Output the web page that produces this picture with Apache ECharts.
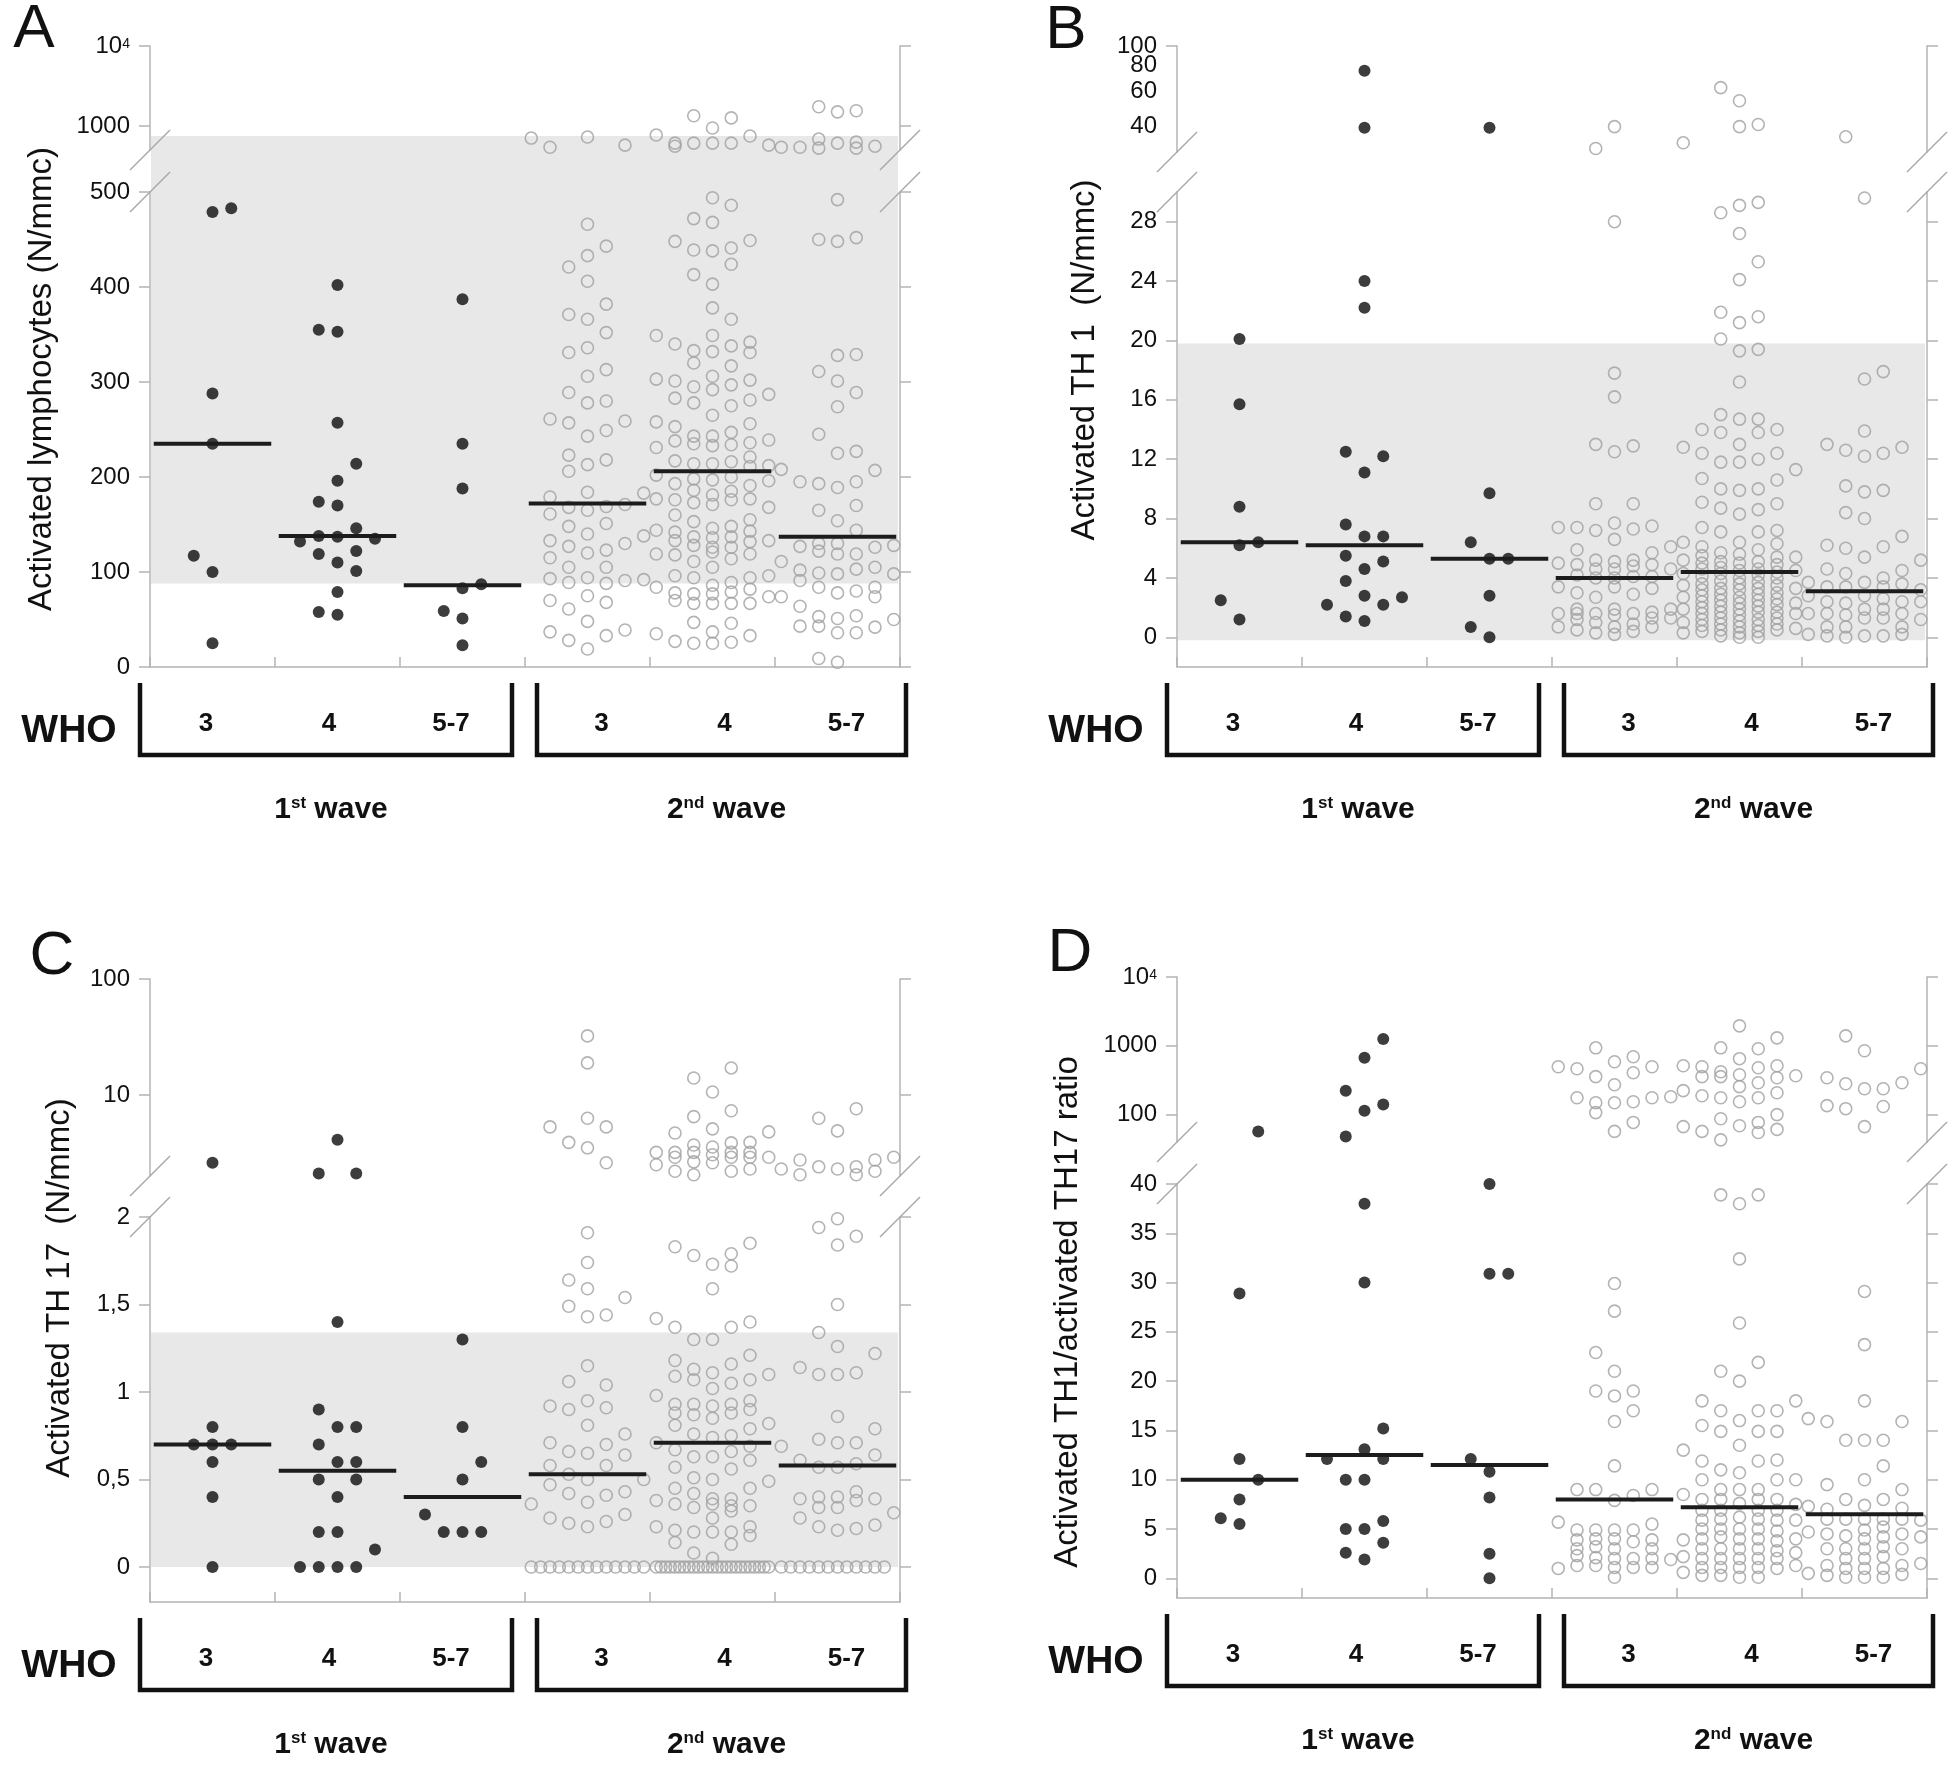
<!DOCTYPE html>
<html>
<head>
<meta charset="utf-8">
<script src="https://cdn.jsdelivr.net/npm/echarts@6/dist/echarts.min.js"></script>
<style>
  html, body { margin: 0; padding: 0; background: #fff; }
  #chart { width: 1960px; height: 1768px; }
</style>
</head>
<body>
<div id="chart"></div>
<script>
// WHO classes and waves
const whoClasses = ['3', '4', '5-7'];
const waveLabels = [['1', 'st'], ['2', 'nd']];

// each group: [column offset, value]; groups 0-2 = 1st wave, 3-5 = 2nd wave
const lymphocytes = [
  [[0,479],[1,483],[0,288],[0,235],[-1,117],[0,100],[0,25]],
  [[0,402],[-1,355],[0,353],[0,257],[1,214],[0,196],[-1,174],[0,170],[1,146],[-2,132],[-1,138],[0,137],[2,135],[-1,119],[1,122],[0,110],[1,101],[0,79],[-1,58],[0,55]],
  [[0,387],[0,235],[0,188],[0,83],[1,87],[-1,59],[0,51],[0,23]],
  [[-3,705],[-2,542],[0,726],[2,575],
   [0,466],[1,443],[-1,421],[0,433],[0,406],[1,382],[-1,371],[0,366],[1,352],[-1,331],[0,336],[0,306],[1,313],[-1,289],[0,278],[1,280],
   [-2,261],[-1,257],[2,259],[0,243],[1,249],[-1,223],[-1,206],[0,213],[1,218],[-2,179],[0,184],[3,183],[-1,168],[0,165],[1,169],[2,171],
   [-2,161],[-1,148],[1,151],[0,140],[-2,133],[-1,127],[0,120],[1,123],[2,130],[3,138],[-2,115],[-1,105],[1,105],[-2,93],[-1,89],[0,94],
   [1,88],[2,91],[3,92],[-2,70],[-1,61],[0,75],[1,68],[0,48],[-2,37],[-1,28],[0,19],[1,33],[2,39]],
  [[-3,769],[-2,609],[-2,558],[-1,1340],[-1,609],[0,943],[0,609],[1,1260],[1,609],[2,747],[3,575],
   [0,494],[1,486],[-1,472],[0,468],[-2,448],[-1,439],[0,438],[1,441],[2,449],[1,424],[-1,413],[0,403],[0,378],[1,366],
   [-3,349],[-2,340],[0,349],[-1,333],[0,332],[1,338],[2,342],[2,331],[-1,320],[1,317],[0,306],[-3,303],[-2,301],[-1,295],[0,292],[1,297],[2,302],
   [-2,283],[-1,278],[2,281],[3,287],[1,275],[0,265],[-3,258],[-2,253],[2,256],[-2,238],[-1,243],[-1,235],[0,243],[0,233],[1,247],[1,234],[2,236],[3,239],[-3,231],
   [2,221],[-2,217],[-1,214],[0,214],[1,216],[2,211],[3,212],[-3,202],[-2,193],[-1,198],[0,197],[1,200],[2,191],[3,196],
   [-2,176],[-1,186],[-1,173],[0,181],[0,171],[1,185],[1,176],[2,177],[-3,177],[3,168],[-2,160],[-1,153],[0,146],[1,148],[2,155],
   [-2,142],[-2,133],[-1,137],[-1,128],[0,136],[0,126],[1,137],[1,126],[2,143],[2,132],[3,133],[-3,144],[-3,119],[-2,118],[-1,111],[0,121],[1,114],[2,119],[0,105],
   [-2,96],[-1,94],[0,86],[1,89],[2,94],[3,96],[-3,84],[-2,78],[-2,70],[-1,77],[-1,67],[0,77],[0,67],[1,79],[1,67],[2,82],[2,67],[3,74],
   [-1,47],[0,37],[1,46],[-3,35],[-2,27],[-1,25],[0,25],[1,26],[2,33]],
  [[-3,542],[-2,542],[-1,1740],[-1,685],[-1,527],[0,1500],[0,609],[1,1550],[1,627],[1,527],[2,558],
   [0,492],[-1,450],[0,448],[1,452],[0,328],[1,329],[-1,311],[0,301],[1,289],[0,274],[-1,245],[0,225],[1,227],
   [-3,208],[-2,195],[-1,193],[0,189],[1,195],[2,207],[-1,165],[1,170],[0,154],[1,144],
   [-2,127],[-1,130],[-1,122],[0,130],[0,119],[1,119],[2,126],[3,128],[-3,111],[-2,102],[-1,99],[0,98],[1,103],[2,105],[3,98],
   [-2,91],[-1,84],[0,78],[1,80],[2,84],[2,74],[-3,74],[-2,64],[-1,53],[-1,43],[0,51],[0,36],[1,54],[1,36],[-2,43],[2,42],[3,50],[-1,9],[0,5]]
];
const lymphMedians = [235, 138, 86, 172, 206, 137];
const lymphBand = [88, 750];
const lymphUpperTicks = [1000, 10000];
const lymphLowerTicks = [0, 100, 200, 300, 400, 500];

const th1 = [
  [[0,20.1],[0,15.7],[0,8.8],[0,6.2],[1,6.4],[-1,2.5],[0,1.2]],
  [[0,75.5],[0,39.5],[0,24.0],[0,22.2],[-1,12.5],[1,12.2],[0,11.1],[-1,7.6],[0,6.8],[1,6.8],[-1,5.5],[1,5.1],[0,4.6],[-1,3.8],[0,2.8],[2,2.7],[-2,2.2],[1,2.2],[-1,1.4],[0,1.1]],
  [[0,39.5],[0,9.7],[-1,6.4],[0,5.3],[1,5.3],[0,2.8],[-1,0.7],[0,0]],
  [[-1,31.2],[0,40],[0,28.0],[0,17.8],[0,16.2],[-1,13.0],[0,12.5],[1,12.9],[-1,9.0],[1,9.0],[-3,7.4],[-2,7.4],[-1,7.2],[0,7.7],[0,6.6],[1,7.3],[2,7.5],[3,6.1],
   [-2,5.9],[-3,5.0],[-2,4.9],[-1,5.2],[-1,4.6],[0,5.1],[0,4.6],[1,5.2],[1,4.8],[2,5.7],[2,4.9],[3,4.6],[-2,4.2],[-1,4.0],[0,4.0],[1,4.1],[2,4.1],
   [-3,3.4],[-2,3.0],[-1,2.7],[0,3.4],[1,2.9],[2,3.3],[3,1.9],[3,1.3],[-3,1.6],[-3,0.7],[-2,1.9],[-2,1.6],[-2,1.2],[-2,0.5],[-1,1.6],[-1,1.0],[-1,0.3],
   [0,1.9],[0,1.5],[0,0.7],[0,0.2],[1,1.6],[1,0.9],[1,0.4],[2,1.7],[2,1.3],[2,0.7]],
  [[-3,33.3],[-1,62.3],[0,53.7],[0,40],[1,41],
   [-1,28.6],[0,29.1],[1,29.3],[0,27.2],[1,25.3],[0,24.1],[-1,21.9],[0,21.2],[1,21.6],[-1,20.1],[0,19.3],[1,19.4],[0,17.2],[-1,15.0],[0,14.7],[1,14.7],
   [-2,14.0],[-1,13.8],[1,13.8],[2,14.0],[0,13.0],[-3,12.8],[-2,12.4],[2,12.4],[-1,11.8],[0,11.8],[1,12.0],[3,11.3],[-2,10.7],[2,10.6],[-1,10.0],[0,9.9],[1,10.0],
   [-2,9.1],[-1,8.7],[0,8.3],[1,8.6],[2,9.0],[-2,7.4],[-1,7.1],[1,7.1],[2,7.2],[-3,6.4],[0,6.4],[2,6.3],[-2,6.1],[1,5.9],[3,5.4],[-3,5.2],[-2,5.5],[-1,5.7],[0,5.6],[2,5.4],
   [-2,5.0],[-2,4.6],[-2,4.1],[-2,3.6],[-2,3.2],[-2,2.8],[-2,2.4],[-2,2.0],[-2,1.6],[-2,1.2],[-2,0.8],[-2,0.4],
   [-1,5.1],[-1,4.7],[-1,4.3],[-1,3.8],[-1,3.3],[-1,2.9],[-1,2.5],[-1,2.1],[-1,1.7],[-1,1.3],[-1,0.9],[-1,0.5],[-1,0.1],
   [0,5.0],[0,4.5],[0,4.0],[0,3.6],[0,3.2],[0,2.7],[0,2.3],[0,1.9],[0,1.5],[0,1.1],[0,0.7],[0,0.3],[0,0.0],
   [1,5.1],[1,4.6],[1,4.2],[1,3.7],[1,3.3],[1,2.9],[1,2.5],[1,2.1],[1,1.7],[1,1.2],[1,0.8],[1,0.4],[1,0.0],
   [2,4.9],[2,4.4],[2,4.0],[2,3.5],[2,3.0],[2,2.6],[2,2.2],[2,1.7],[2,1.3],[2,0.9],[2,0.5],
   [-3,4.3],[-3,3.5],[-3,2.7],[-3,1.9],[-3,1.0],[-3,0.3],[3,4.5],[3,3.3],[3,2.3],[3,1.6],[3,0.6]],
  [[-1,35.7],[0,29.6],[0,17.4],[1,17.9],[0,13.9],[-2,13.0],[-1,12.6],[0,12.2],[1,12.4],[2,12.8],[-1,10.2],[0,9.8],[1,9.9],[-1,8.4],[0,8.0],[2,6.8],
   [-2,6.2],[-1,6.0],[1,6.1],[0,5.4],[3,5.2],[-2,4.6],[-1,4.3],[0,3.7],[1,4.0],[2,4.5],[-3,3.7],[-3,2.8],[-2,3.4],[-2,2.4],[-1,3.4],[-1,2.3],[0,2.8],[0,1.9],
   [1,3.4],[1,2.6],[1,1.9],[2,3.6],[2,2.4],[3,3.2],[3,2.4],[3,1.2],[-3,1.6],[-3,0.2],[-2,1.6],[-2,0.7],[-2,0.1],[-1,1.5],[-1,0.7],[-1,0.0],
   [0,1.3],[0,0.1],[1,1.3],[1,0.1],[2,1.6],[2,0.7],[2,0.2]]
];
const th1Medians = [6.4, 6.2, 5.3, 4.0, 4.4, 3.1];
const th1Band = [-0.2, 19.8];
const th1UpperLabels = [40, 60, 100];
const th1UpperExtraLabels = [80];
const th1UpperTicks = [100];
const th1LowerTicks = [0, 4, 8, 12, 16, 20, 24, 28];

const th17 = [
  [[0,2.6],[0,0.8],[-1,0.7],[0,0.7],[1,0.7],[0,0.6],[0,0.4],[0,0]],
  [[0,4.1],[-1,2.1],[1,2.1],[0,1.4],[-1,0.9],[0,0.8],[1,0.8],[-1,0.7],[0,0.6],[1,0.6],[-1,0.5],[1,0.5],[0,0.4],[-1,0.2],[0,0.2],[2,0.1],[-2,0],[-1,0],[0,0],[1,0]],
  [[0,1.3],[0,0.8],[1,0.6],[0,0.5],[-2,0.3],[-1,0.2],[0,0.2],[1,0.2]],
  [[0,32.3],[0,18.9],[-2,5.3],[-1,3.9],[0,6.3],[0,3.5],[1,5.3],[1,2.6],
   [0,1.91],[0,1.74],[-1,1.64],[0,1.59],[-1,1.49],[0,1.43],[1,1.44],[2,1.54],[0,1.15],[-1,1.06],[1,1.04],[-2,0.92],[-1,0.90],[0,0.95],[1,0.91],[0,0.81],
   [-2,0.71],[-1,0.66],[0,0.65],[1,0.70],[2,0.76],[2,0.64],[-2,0.58],[-1,0.53],[0,0.50],[1,0.58],[3,0.50],[-2,0.47],[-1,0.42],[0,0.37],[1,0.41],[2,0.43],
   [-3,0.36],[-2,0.28],[-1,0.25],[0,0.23],[1,0.26],[2,0.30],
   [-3,0],[-2.5,0],[-2,0],[-1.5,0],[-1,0],[-0.5,0],[0,0],[0.5,0],[1,0],[1.5,0],[2,0],[2.5,0],[3,0]],
  [[-3,3.2],[-3,2.5],[-2,4.7],[-2,3.2],[-2,2.9],[-2,2.2],[-1,14.0],[-1,6.5],[-1,3.7],[-1,3.2],[-1,2.65],[-1,2.05],[0,10.6],[0,5.1],[0,3.56],[0,3.05],[0,2.6],
   [1,17.1],[1,7.3],[1,3.86],[1,3.2],[1,2.9],[1,2.2],[2,3.9],[2,3.2],[2,2.9],[2,2.3],[3,4.8],[3,2.9],
   [-2,1.83],[-1,1.78],[0,1.73],[1,1.79],[1,1.72],[2,1.85],[0,1.59],[-3,1.42],[-2,1.37],[1,1.37],[2,1.40],[-1,1.30],[0,1.30],[2,1.21],[-2,1.18],[1,1.16],
   [-2,1.09],[-1,1.13],[-1,1.07],[0,1.11],[0,1.02],[1,1.05],[2,1.07],[3,1.10],[-3,0.98],[-2,0.93],[-2,0.88],[-1,0.93],[-1,0.87],[0,0.92],[0,0.85],[1,0.93],[1,0.88],
   [2,0.95],[2,0.90],[2,0.79],[3,0.82],[-2,0.81],[-1,0.76],[0,0.74],[1,0.75],[-3,0.71],[-2,0.67],[-1,0.63],[0,0.63],[1,0.66],[2,0.61],[2,0.69],
   [-2,0.57],[1,0.56],[3,0.49],[-1,0.51],[0,0.50],[-2,0.45],[-1,0.42],[-1,0.34],[0,0.39],[0,0.36],[1,0.39],[1,0.35],[1,0.32],[2,0.45],[2,0.35],[-3,0.38],[-2,0.36],
   [0,0.28],[-3,0.23],[-2,0.21],[-2,0.14],[-1,0.20],[0,0.20],[1,0.20],[1,0.13],[2,0.23],[2,0.18],[-1,0.08],[0,0.05],
   [-3,0],[-2.75,0],[-2.5,0],[-2.25,0],[-2,0],[-1.75,0],[-1.5,0],[-1.25,0],[-1,0],[-0.75,0],[-0.5,0],[-0.25,0],[0,0],
   [0.25,0],[0.5,0],[0.75,0],[1,0],[1.25,0],[1.5,0],[1.75,0],[2,0],[2.25,0],[2.5,0],[2.75,0],[3,0]],
  [[-3,2.3],[-2,2.75],[-2,2.05],[-1,6.3],[-1,2.4],[0,4.9],[0,2.3],[1,7.6],[1,2.4],[1,2.05],[2,2.75],[2,2.2],[3,2.9],
   [-1,1.94],[0,1.99],[0,1.84],[1,1.89],[0,1.50],[-1,1.34],[0,1.26],[2,1.22],[-2,1.14],[-1,1.10],[0,1.10],[1,1.11],[0,0.86],[-1,0.73],[0,0.71],[1,0.71],[2,0.79],
   [-2,0.61],[-1,0.57],[0,0.57],[1,0.59],[2,0.64],[-3,0.69],[-2,0.39],[-1,0.40],[-1,0.34],[0,0.40],[0,0.34],[1,0.43],[1,0.38],[2,0.39],[3,0.31],
   [-2,0.28],[-1,0.23],[0,0.21],[1,0.22],[2,0.24],
   [-3,0],[-2.5,0],[-2,0],[-1.5,0],[-1,0],[-0.5,0],[0,0],[0.5,0],[1,0],[1.5,0],[2,0],[2.5,0]]
];
const th17Medians = [0.70, 0.55, 0.40, 0.53, 0.71, 0.58];
const th17Band = [0, 1.34];
const th17UpperTicks = [10, 100];
const th17LowerTicks = [0, 0.5, 1, 1.5, 2];

const ratio = [
  [[1,57],[0,28.9],[0,12.1],[1,10],[0,8],[-1,6.1],[0,5.5]],
  [[1,1260],[0,670],[-1,223],[0,114],[1,140],[-1,48],[0,38],[0,30],[1,15.2],[0,13.1],[-2,12.1],[1,12.1],[-1,10],[0,10],[1,5.8],[-1,5],[0,5],[1,3.6],[-1,2.6],[0,1.9]],
  [[0,40],[0,30.9],[1,30.9],[-1,12.1],[0,10.8],[0,8.2],[0,2.5],[0,0]],
  [[-3,497],[-2,464],[-2,176],[-1,935],[-1,356],[-1,149],[-1,107],[0,586],[0,272],[0,149],[0,57],[1,693],[1,406],[1,154],[1,77],[2,497],[2,176],[3,182],
   [0,29.9],[0,27.1],[-1,22.9],[0,21.0],[-1,19.0],[0,18.5],[1,19.0],[1,17.0],[0,15.9],[0,11.4],[-2,9.0],[-1,9.0],[2,9.0],[0,7.9],[1,8.4],
   [-3,5.7],[-2,4.9],[-1,4.9],[0,4.9],[1,4.9],[2,5.5],[-2,3.9],[-1,4.0],[0,4.0],[1,3.7],[2,3.9],[-2,3.0],[-1,3.2],[0,3.0],[2,3.0],
   [-2,2.3],[-1,2.1],[0,2.0],[1,2.0],[2,2.0],[3,1.9],[-3,1.0],[-2,1.3],[-1,1.3],[0,1.1],[1,1.1],[2,1.1],[0,0.1]],
  [[-3,513],[-3,223],[-3,67],[-2,497],[-2,356],[-2,188],[-2,57],[-1,935],[-1,420],[-1,356],[-1,176],[-1,87],[-1,43],[0,1950],[0,650],[0,380],[0,255],[0,154],[0,69],
   [1,905],[1,480],[1,291],[1,176],[1,77],[1,55],[2,1306],[2,513],[2,344],[2,208],[2,100],[2,61],[3,367],
   [-1,38.9],[0,38.0],[1,38.9],[0,32.4],[0,25.9],[1,21.9],[-1,21.0],[0,20.0],[-2,18.0],[-1,17.0],[1,17.0],[2,17.0],[3,18.0],[-2,15.5],[-1,14.9],[0,16.0],[1,14.9],[2,14.9],
   [0,13.5],[-3,13.0],[-2,11.9],[1,11.9],[2,12.0],[-1,11.0],[0,10.7],[-2,10.0],[2,10.0],[3,10.0],[-3,8.5],[-2,8.0],[-1,9.0],[0,9.0],[1,9.0],[2,8.0],[3,7.5],
   [-1,8.0],[1,8.0],[0,7.6],[-2,6.9],[-1,6.9],[1,6.9],[2,6.9],[-2,5.9],[-1,6.0],[0,6.2],[1,6.0],[2,5.9],[3,5.9],[-3,3.9],[-3,2.2],[-3,0.6],
   [-2,5.0],[-2,4.0],[-2,3.0],[-2,2.0],[-2,1.1],[-2,0.3],[-1,5.0],[-1,4.2],[-1,3.0],[-1,2.0],[-1,1.1],[-1,0.3],[0,5.0],[0,4.0],[0,3.0],[0,2.0],[0,1.1],[0,0.1],
   [1,5.0],[1,4.0],[1,3.0],[1,2.0],[1,1.1],[1,0.1],[2,4.8],[2,3.8],[2,2.8],[2,2.0],[2,1.0],[3,4.0],[3,2.6],[3,1.3]],
  [[-2,344],[-2,135],[-1,1396],[-1,281],[-1,122],[0,847],[0,238],[0,67],[1,238],[1,131],[2,291],[3,464],
   [0,29.1],[0,23.7],[0,18.0],[-3,16.2],[-2,15.9],[-1,14.0],[0,14.0],[1,14.0],[2,15.9],[1,11.4],[0,10.0],[-2,9.5],[2,9.0],[-1,8.0],[1,8.0],[0,7.4],[2,7.1],
   [-3,7.3],[-2,7.0],[3,5.9],[-3,4.7],[-2,6.0],[-1,6.0],[0,6.0],[1,6.0],[2,6.0],[-2,4.5],[-2,3.0],[-2,1.3],[-2,0.3],[-1,4.3],[-1,3.0],[-1,2.0],[-1,1.0],[-1,0.1],
   [0,4.9],[0,4.0],[0,3.0],[0,2.0],[0,1.0],[0,0.1],[1,5.2],[1,4.2],[1,3.2],[1,2.2],[1,1.0],[1,0.1],[2,4.5],[2,3.0],[2,1.3],[2,0.4],[3,4.2],[3,1.5],[-3,0.5]]
];
const ratioMedians = [10.0, 12.5, 11.5, 8.0, 7.2, 6.5];
const ratioUpperTicks = [100, 1000, 10000];
const ratioLowerTicks = [0, 5, 10, 15, 20, 25, 30, 35, 40];

const FONT = "'Liberation Sans', Arial, Helvetica, sans-serif";
const AXIS = '#b4b4b4';
const COL = 0.15;       // column step inside a group (group width = 1)
const WIDTH = 750;

const panels = [
  { letter: 'A', title: 'Activated lymphocytes (N/mmc)', groups: lymphocytes, medians: lymphMedians, band: lymphBand,
    split: 500, upper: { min: 500, max: 10000, labels: lymphUpperTicks, ticks: lymphUpperTicks },
    lower: { min: 0, max: 500, labels: lymphLowerTicks },
    box: { left: 150, upTop: 46, upBot: 150, loTop: 192, loBot: 667, letter: [34, 30], title: [42, 379] } },
  { letter: 'B', title: 'Activated TH 1  (N/mmc)', groups: th1, medians: th1Medians, band: th1Band,
    split: 30, upper: { min: 30, max: 100, labels: th1UpperLabels, extra: th1UpperExtraLabels, ticks: th1UpperTicks },
    lower: { min: -2, max: 30, labels: th1LowerTicks },
    box: { left: 1177, upTop: 46, upBot: 152, loTop: 192, loBot: 667, letter: [1066, 31], title: [1085, 360] } },
  { letter: 'C', title: 'Activated TH 17  (N/mmc)', groups: th17, medians: th17Medians, band: th17Band, comma: true,
    split: 2, upper: { min: 2, max: 100, labels: th17UpperTicks, ticks: th17UpperTicks },
    lower: { min: -0.2, max: 2, labels: th17LowerTicks },
    box: { left: 150, upTop: 979, upBot: 1176, loTop: 1217, loBot: 1602, letter: [52, 957], title: [60, 1288] } },
  { letter: 'D', title: 'Activated TH1/activated TH17 ratio', groups: ratio, medians: ratioMedians, band: null,
    split: 40, upper: { min: 40, max: 10000, labels: ratioUpperTicks, ticks: ratioUpperTicks },
    lower: { min: -2, max: 40, labels: ratioLowerTicks },
    box: { left: 1177, upTop: 977, upBot: 1142, loTop: 1184, loBot: 1598, letter: [1070, 954], title: [1068, 1312] } }
];

const lg = v => Math.log10(v);
const labelRich = {
  b: { fontSize: 24, lineHeight: 18, fontFamily: FONT, color: '#111' },
  e: { fontSize: 14, lineHeight: 12, fontFamily: FONT, color: '#111', verticalAlign: 'top' }
};

function yAxis(gridIndex, position, min, max, labelVals, tickVals, formatter, noLine) {
  return {
    gridIndex, position, type: 'value', min, max,
    axisLine: { show: !noLine, onZero: false, lineStyle: { color: AXIS, width: 1.5 } },
    axisTick: { show: !noLine, length: 11, customValues: tickVals, lineStyle: { color: AXIS, width: 1.5 } },
    axisLabel: position === 'left'
      ? { show: true, customValues: labelVals, formatter, margin: 20, fontSize: 24, lineHeight: 18, fontFamily: FONT, color: '#111',
          rich: labelRich, showMinLabel: true, showMaxLabel: true, hideOverlap: false }
      : { show: false },
    splitLine: { show: false }
  };
}

function points(p, wave, upper) {
  const out = [];
  p.groups.forEach((grp, g) => {
    if ((g < 3 ? 0 : 1) !== wave) return;
    grp.forEach(([k, v]) => {
      if ((v > p.split) !== upper) return;
      out.push([g + 0.5 + k * COL, upper ? lg(v) : v]);
    });
  });
  return out;
}

const grids = [], xAxes = [], yAxes = [], extraAxes = [], series = [];
const upFmt = v => {
  const n = Math.round(Math.pow(10, v));
  return n === 10000 ? '{b|10}{e|4}' : '{b|' + n + '}';
};

panels.forEach((p, i) => {
  const b = p.box;
  const gu = 2 * i, gl = 2 * i + 1;
  grids.push({ left: b.left, top: b.upTop, width: WIDTH, height: b.upBot - b.upTop, outerBoundsMode: 'none' });
  grids.push({ left: b.left, top: b.loTop, width: WIDTH, height: b.loBot - b.loTop, outerBoundsMode: 'none' });

  xAxes.push({ gridIndex: gu, type: 'value', min: 0, max: 6, show: false });
  xAxes.push({
    gridIndex: gl, type: 'value', min: 0, max: 6, interval: 1,
    axisLine: { show: true, onZero: false, lineStyle: { color: AXIS, width: 1.5 } },
    axisTick: { show: true, inside: true, length: 10, lineStyle: { color: AXIS, width: 1.5 } },
    axisLabel: { show: false }, splitLine: { show: false }
  });

  const loFmt = v => '{b|' + (p.comma ? String(v).replace('.', ',') : String(v)) + '}';
  const up = p.upper, lo = p.lower;
  yAxes.push(yAxis(gu, 'left', lg(up.min), lg(up.max), up.labels.map(lg), up.ticks.map(lg), upFmt));
  yAxes.push(yAxis(gu, 'right', lg(up.min), lg(up.max), [], up.ticks.map(lg), null));
  yAxes.push(yAxis(gl, 'left', lo.min, lo.max, lo.labels, lo.labels, loFmt));
  yAxes.push(yAxis(gl, 'right', lo.min, lo.max, [], lo.labels, null));
  // tightly packed labels go on a second, line-less axis so none is dropped as overlapping
  if (up.extra) extraAxes.push(yAxis(gu, 'left', lg(up.min), lg(up.max), up.extra.map(lg), [], upFmt, true));

  [[gu, 4 * i, true], [gl, 4 * i + 2, false]].forEach(([g, yi, upper]) => {
    series.push({
      type: 'scatter', xAxisIndex: g, yAxisIndex: yi, silent: true, z: 3,
      symbol: 'circle', symbolSize: 12,
      itemStyle: { color: 'rgba(0,0,0,0)', borderColor: '#a0a0a0', borderWidth: 1.6 },
      data: points(p, 1, upper)
    });
    series.push({
      type: 'scatter', xAxisIndex: g, yAxisIndex: yi, silent: true, z: 4,
      symbol: 'circle', symbolSize: 12,
      itemStyle: { color: '#0d0d0d' },
      data: points(p, 0, upper)
    });
  });

  p.medians.forEach((m, g) => {
    series.push({
      type: 'line', xAxisIndex: gl, yAxisIndex: 4 * i + 2, silent: true, z: 6,
      symbol: 'none', lineStyle: { color: '#1c1c1c', width: 4 },
      data: [[g + 0.5 - 0.47, m], [g + 0.5 + 0.47, m]]
    });
  });
});

const chart = echarts.init(document.getElementById('chart'), null, { width: 1960, height: 1768 });
chart.setOption({
  animation: false,
  backgroundColor: '#fff',
  grid: grids, xAxis: xAxes, yAxis: yAxes.concat(extraAxes), series
});

// decorations: bands, axis breaks, labels and WHO brackets
const els = [];
const txt = (x, y, text, size, weight, extra) => Object.assign({
  type: 'text', x, y, z: 20, silent: true,
  style: { text, fill: '#111', fontSize: size, fontWeight: weight, fontFamily: FONT,
           align: 'center', verticalAlign: 'middle', textAlign: 'center', textVerticalAlign: 'middle' }
}, extra || {});

panels.forEach((p, i) => {
  const b = p.box, gu = 2 * i, gl = 2 * i + 1;
  const x0 = chart.convertToPixel({ gridIndex: gl }, [0, 0])[0];
  const x1 = chart.convertToPixel({ gridIndex: gl }, [6, 0])[0];

  if (p.band) {
    const yOf = v => v > p.split
      ? chart.convertToPixel({ gridIndex: gu }, [0, lg(v)])[1]
      : chart.convertToPixel({ gridIndex: gl }, [0, v])[1];
    const yTop = yOf(p.band[1]), yBot = yOf(p.band[0]);
    els.push({ type: 'rect', z: 1, silent: true,
      shape: { x: x0 + 1, y: yTop, width: x1 - x0 - 3, height: yBot - yTop },
      style: { fill: '#e8e8e8' } });
  }

  // axis break marks
  [x0, x1].forEach(ax => {
    [b.upBot, b.loTop].forEach(yc => {
      els.push({ type: 'line', z: 15, silent: true,
        shape: { x1: ax - 20, y1: yc + 20, x2: ax + 20, y2: yc - 20 },
        style: { stroke: '#a8a8a8', lineWidth: 1.5 } });
    });
  });

  els.push(txt(b.letter[0], b.letter[1], p.letter, 62, 'normal'));
  els.push(txt(b.title[0], b.title[1], p.title, 33, 'normal', { rotation: Math.PI / 2 }));

  // WHO brackets
  const yTop = b.loBot + 16, yBot = b.loBot + 88;
  const brackets = [[b.left - 10, b.left + 362], [b.left + 387, b.left + 756]];
  els.push(txt(b.left - 81, b.loBot + 64, 'WHO', 39, 'bold'));
  brackets.forEach(([bx0, bx1], w) => {
    els.push({ type: 'polyline', z: 15, silent: true,
      shape: { points: [[bx0, yTop], [bx0, yBot], [bx1, yBot], [bx1, yTop]] },
      style: { stroke: '#111', lineWidth: 4.5, fill: null } });
    const c = (bx0 + bx1) / 2;
    [-120, 3, 125].forEach((off, j) => {
      els.push(txt(c + off, b.loBot + 57, whoClasses[j], 26, 'bold'));
    });
    const wl = waveLabels[w];
    els.push({
      type: 'text', x: c + 5, y: b.loBot + 143, z: 20, silent: true,
      style: {
        text: '{a|' + wl[0] + '}{s|' + wl[1] + '}{a| wave}', fill: '#111',
        align: 'center', verticalAlign: 'middle', textAlign: 'center', textVerticalAlign: 'middle',
        rich: {
          a: { fontSize: 30, fontWeight: 'bold', fontFamily: FONT, fill: '#111', color: '#111' },
          s: { fontSize: 17, fontWeight: 'bold', fontFamily: FONT, fill: '#111', color: '#111', verticalAlign: 'top' }
        }
      }
    });
  });
});

chart.setOption({ graphic: { elements: els } });
</script>
</body>
</html>
